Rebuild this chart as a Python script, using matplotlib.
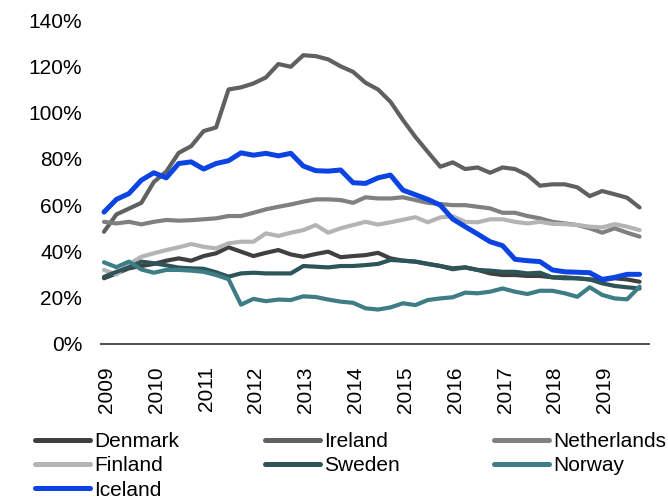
import numpy as np
import matplotlib
matplotlib.use('Agg')
import matplotlib.pyplot as plt
from matplotlib.ticker import FuncFormatter

plt.rcParams['font.family'] = ['Liberation Sans', 'DejaVu Sans']

# quarterly values, 2009Q1 - 2019Q4
denmark = [28.4, 30.5, 32.7, 33.7, 34.6, 36.0, 37.0, 36.0, 38.0, 39.2, 41.8,
           39.9, 38.0, 39.4, 40.6, 38.7, 37.7, 38.9, 39.9, 37.5, 38.0, 38.4,
           39.4, 37.0, 36.0, 35.6, 34.6, 33.7, 32.7, 33.1, 32.0, 30.5, 29.8,
           29.8, 29.4, 29.4, 28.8, 28.8, 28.4, 27.9, 27.6, 28.4, 27.9, 26.9]
ireland = [48.5, 56.0, 58.5, 61.0, 70.0, 74.5, 82.6, 85.5, 92.0, 93.6, 110.0,
           110.9, 112.6, 115.2, 121.0, 119.8, 124.8, 124.4, 123.0, 120.0, 117.6, 112.9,
           110.0, 104.7, 96.8, 89.5, 83.0, 76.6, 78.5, 75.6, 76.3, 74.0, 76.3,
           75.6, 73.0, 68.4, 69.0, 69.0, 67.7, 63.9, 66.1, 64.7, 63.2, 59.0]
netherlands = [52.8, 52.1, 52.8, 51.7, 52.8, 53.6, 53.3, 53.5, 53.9, 54.3, 55.3,
               55.3, 56.7, 58.2, 59.3, 60.3, 61.5, 62.5, 62.5, 62.2, 61.0, 63.4,
               62.9, 62.9, 63.4, 62.2, 61.0, 60.5, 60.0, 60.0, 59.3, 58.6, 56.7,
               56.7, 55.3, 54.3, 52.8, 52.1, 51.4, 50.0, 48.1, 50.0, 48.1, 46.4]
finland = [32.0, 30.0, 34.5, 37.7, 39.2, 40.6, 41.8, 43.2, 42.0, 41.3, 43.5,
           44.2, 44.2, 47.8, 46.7, 48.1, 49.2, 51.4, 48.1, 50.0, 51.4, 52.8,
           51.6, 52.6, 53.7, 54.8, 52.6, 54.7, 55.2, 52.8, 52.6, 53.9, 53.9,
           52.8, 52.1, 52.8, 51.9, 51.8, 51.4, 50.7, 50.4, 51.8, 50.7, 49.2]
sweden = [29.0, 31.2, 33.1, 35.6, 34.9, 34.0, 33.0, 32.7, 32.5, 31.0, 29.1,
          30.5, 30.8, 30.5, 30.5, 30.5, 33.7, 33.4, 33.1, 33.7, 33.7, 34.1,
          34.6, 36.3, 36.0, 35.6, 34.6, 33.7, 32.3, 33.1, 32.0, 31.7, 31.2,
          31.2, 30.5, 30.8, 28.8, 28.4, 28.4, 27.9, 26.2, 25.1, 24.5, 24.0]
norway = [35.3, 33.2, 35.6, 32.2, 30.8, 32.0, 32.0, 31.7, 31.2, 29.8, 28.0,
          17.0, 19.5, 18.5, 19.2, 19.0, 20.6, 20.3, 19.2, 18.3, 17.8, 15.4,
          14.9, 15.8, 17.6, 16.8, 19.0, 19.7, 20.2, 22.2, 21.9, 22.6, 24.0,
          22.6, 21.6, 23.0, 23.0, 21.9, 20.4, 24.5, 21.2, 19.7, 19.3, 24.8]
iceland = [57.0, 62.5, 65.0, 70.8, 74.0, 71.8, 78.0, 78.7, 75.6, 78.0, 79.2,
           82.6, 81.6, 82.4, 81.3, 82.4, 76.9, 74.9, 74.7, 75.2, 69.7, 69.4,
           71.8, 73.0, 66.5, 64.5, 62.5, 60.0, 54.0, 50.7, 47.5, 44.2, 42.5,
           36.6, 36.0, 35.6, 32.0, 31.2, 31.0, 30.8, 27.9, 28.8, 30.1, 30.1]
years = [str(y) for y in range(2009, 2020)]

series = [
    ('Denmark', denmark, '#404040', 3.0),
    ('Ireland', ireland, '#606060', 3.0),
    ('Netherlands', netherlands, '#808080', 3.0),
    ('Finland', finland, '#b4b4b4', 3.0),
    ('Sweden', sweden, '#2d5559', 3.0),
    ('Norway', norway, '#3e7d85', 3.0),
    ('Iceland', iceland, '#0c44e4', 3.6),
]

fig = plt.figure(figsize=(6.68, 5.01), dpi=100)
ax = fig.add_axes([0.1512, 0.3134, 0.8204, 0.6466])

x = np.arange(len(denmark))
handles = {}
for name, vals, col, lw in series:
    h, = ax.plot(x, vals, color=col, lw=lw, label=name,
                 solid_joinstyle='round', solid_capstyle='round')
    handles[name] = h

ax.set_ylim(0, 140)
ax.set_xlim(-0.24, 43.76)
ax.set_yticks(range(0, 141, 20))
ax.yaxis.set_major_formatter(FuncFormatter(lambda v, p: f'{int(v)}%'))
ax.set_xticks([4 * k + 0.2 for k in range(len(years))])
ax.set_xticklabels(years, rotation=90)
ax.tick_params(axis='y', length=0, pad=13.5, labelsize=15)
ax.tick_params(axis='x', length=0, pad=16, labelsize=15)
for s in ['top', 'right', 'left']:
    ax.spines[s].set_visible(False)
ax.spines['bottom'].set_color('#404040')
ax.spines['bottom'].set_linewidth(1.3)

# legend: three columns placed like the original
columns = [(['Denmark', 'Finland', 'Iceland'], 0.052),
           (['Ireland', 'Sweden'], 0.396),
           (['Netherlands', 'Norway'], 0.739)]
for names, xpos in columns:
    leg = fig.legend([handles[n] for n in names], names, loc='upper left',
                     bbox_to_anchor=(xpos, 0.138), frameon=False, fontsize=15,
                     handlelength=2.65, handletextpad=0.2,
                     labelspacing=0.26, borderpad=0, borderaxespad=0)
    for lh in leg.get_lines():
        lh.set_linewidth(3.6)
        lh.set_solid_capstyle('round')

fig.savefig('out.png', dpi=100)
